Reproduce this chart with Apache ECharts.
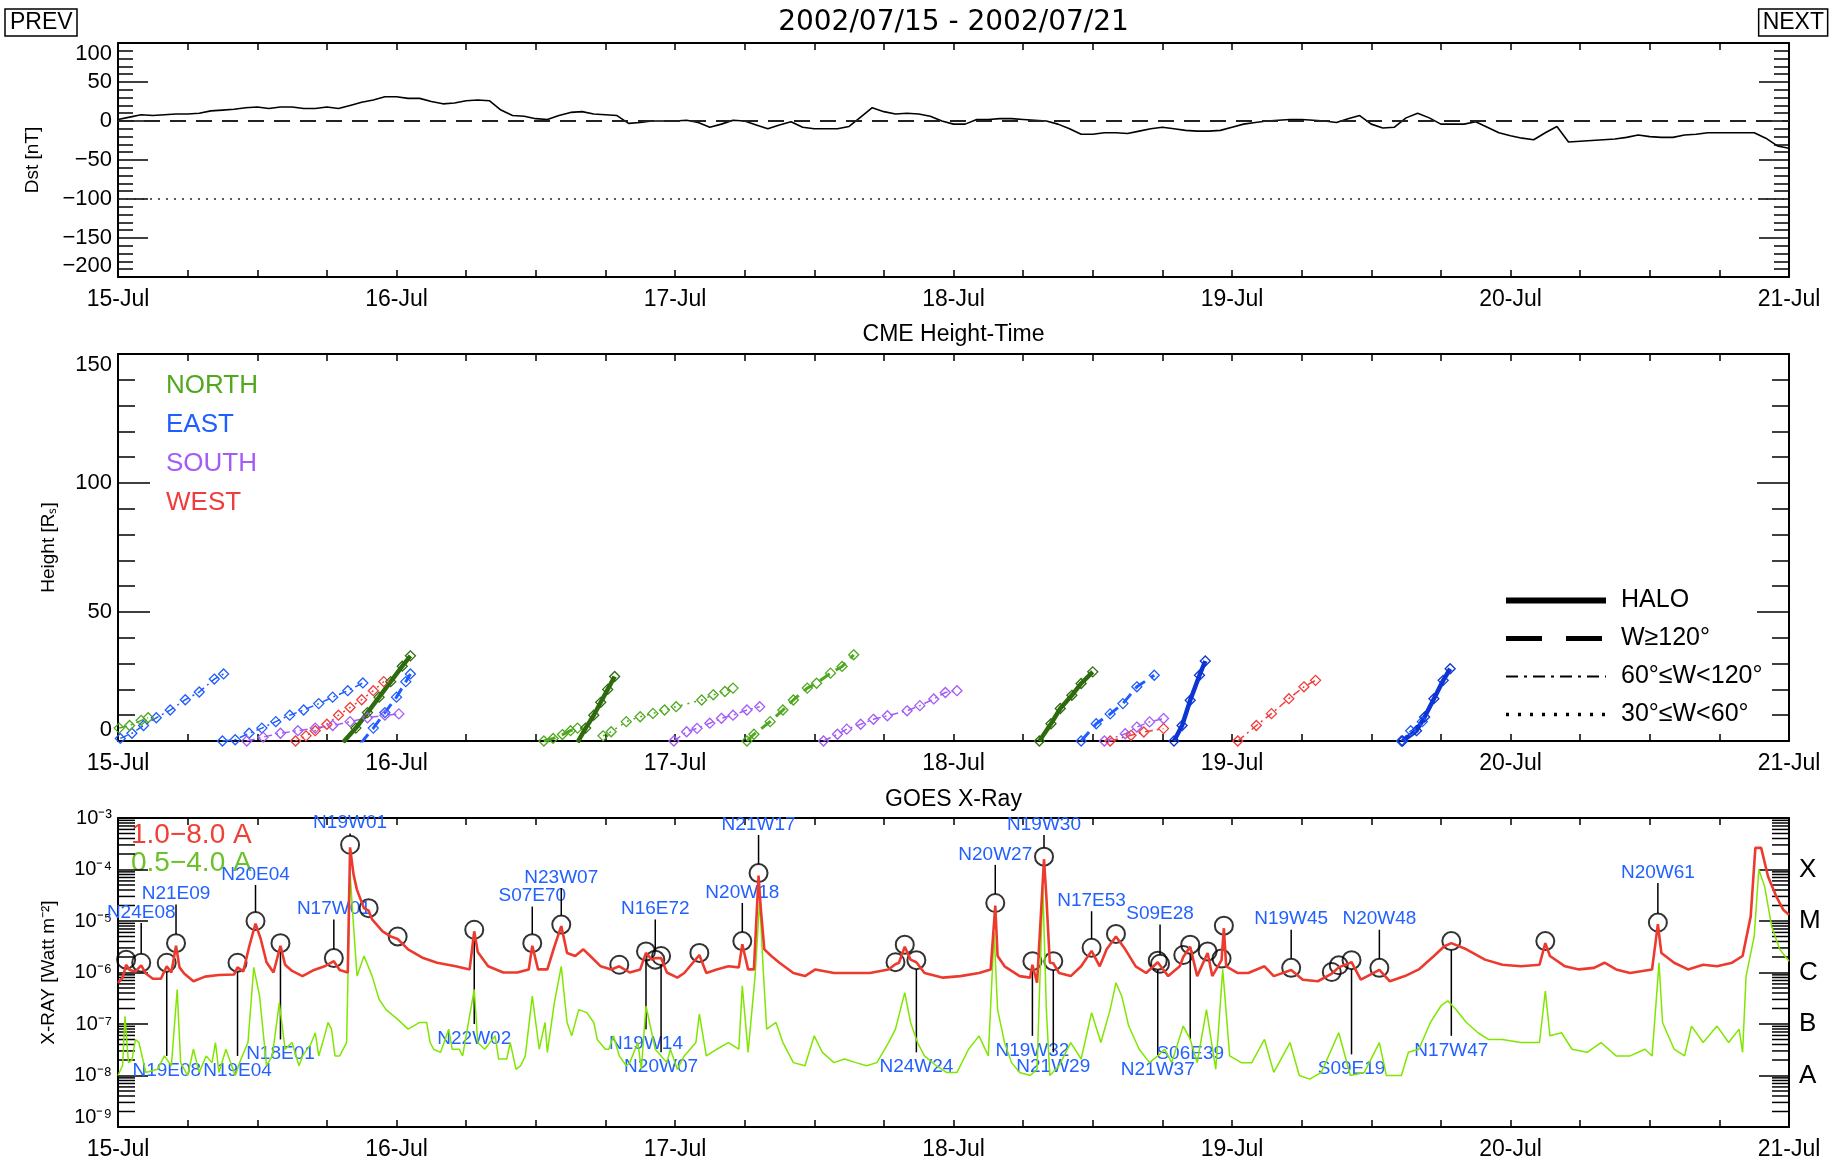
<!DOCTYPE html>
<html>
<head>
<meta charset="utf-8">
<title>2002/07/15 - 2002/07/21</title>
<script src="https://cdn.jsdelivr.net/npm/echarts@6/dist/echarts.min.js"></script>
<style>
  html, body { margin: 0; padding: 0; background: #fff; }
  #chart { width: 1830px; height: 1161px; }
</style>
</head>
<body>
<div id="chart"></div>
<script>
// time is in hours from 15-Jul 00:00 UT
const dayLabels = ['15-Jul', '16-Jul', '17-Jul', '18-Jul', '19-Jul', '20-Jul', '21-Jul'];

// hourly Dst [nT], 15-Jul 00 .. 21-Jul 00
const dst = [
  2, 5, 8, 7, 8, 9, 9, 10, 13, 14, 15, 17, 18, 16, 18, 18, 16, 16, 18, 16, 20, 24, 27, 31,
  31, 29, 29, 25, 22, 23, 26, 27, 26, 14, 7, 6, 3, 2, 7, 11, 12, 9, 8, 7, -3, -2, 0, 0,
  0, 1, -2, -8, -4, 1, 0, -5, -10, -5, -1, -8, -10, -10, -10, -7, 5, 17, 12, 9, 10, 9, 6, 0,
  -4, -4, 2, 2, 3, 3, 2, 1, 0, -4, -10, -17, -17, -15, -15, -16, -13, -10, -8, -10, -12, -13, -13, -12,
  -8, -4, -2, 0, 1, 2, 2, 1, 0, -2, 3, 7, -4, -9, -8, 4, 10, 4, -4, -4, -4, -1, -8, -15,
  -19, -22, -24, -15, -7, -27, -26, -25, -24, -23, -21, -18, -20, -21, -21, -18, -17, -15, -15, -15, -15, -15, -22, -32,
  -35
];
const dstRefLevels = [0, -100];

// CME height-time measurements: [hour, height in solar radii]
const cmeTracks = [
  [[0.2, 1], [1.2, 3], [2.2, 6], [3.3, 9], [4.5, 12], [5.8, 16], [7.0, 19], [8.3, 24], [9.1, 26]],
  [[0.1, 5], [1.0, 6], [2.0, 8], [2.6, 9]],
  [[9.0, 0], [10.1, 0.5], [11.3, 3], [12.4, 5], [13.6, 7.5], [14.8, 10], [16.0, 12], [17.3, 14.5], [18.5, 17], [19.8, 19.5], [21.1, 22.5]],
  [[11.1, 0], [12.5, 1.5], [14.0, 3], [15.5, 4], [17.0, 5], [18.5, 6], [20.0, 7.5], [21.5, 9], [23.0, 10], [24.2, 10.5]],
  [[15.3, 0], [16.2, 2], [17.0, 4], [18.0, 6.5], [19.0, 10], [20.0, 13], [21.0, 16], [22.0, 19.5], [22.9, 23]],
  [[19.4, -0.5], [20.5, 5], [21.5, 11], [22.5, 17], [23.5, 23], [24.5, 29], [25.2, 33]],
  [[20.9, -1], [22.0, 5], [23.0, 11], [24.0, 17], [24.8, 23], [25.2, 26]],
  [[36.7, 0], [37.5, 1], [38.3, 2.5], [39.0, 4], [39.6, 5]],
  [[39.6, -0.5], [40.3, 5], [41.0, 10], [41.6, 15], [42.2, 20], [42.8, 25]],
  [[41.8, 2], [42.5, 3.6], [43.8, 7.5], [45.0, 9.4], [46.1, 10.7], [47.1, 12], [48.1, 13.3], [50.3, 15.9], [51.3, 17.9], [52.3, 19.2], [53.0, 20.5]],
  [[47.9, 0], [49.0, 3.6], [49.9, 4.9], [51.0, 6.9], [52.0, 8.8], [53.0, 10], [54.2, 12], [55.3, 13.3]],
  [[54.2, 0], [54.8, 2.6], [56.2, 7.5], [57.3, 12], [58.2, 15.9], [59.4, 20.5], [60.2, 22.4], [61.4, 26.3], [62.4, 28.9], [63.4, 33.4]],
  [[60.8, 0], [62.0, 2.6], [62.8, 4.6], [64.0, 6.5], [65.1, 8.4], [66.3, 9.8], [68.0, 11.7], [69.1, 13.7], [70.3, 16.3], [71.3, 18.8], [72.3, 19.5]],
  [[79.4, 0], [80.4, 6.7], [81.2, 12.6], [82.2, 17.7], [83.0, 22.3], [84.0, 26.8]],
  [[83.0, 0], [84.3, 6.7], [85.5, 10.5], [86.6, 14.5], [87.8, 21], [89.3, 25.5]],
  [[85.0, 0], [86.8, 2.8], [87.8, 5.4], [88.9, 7.4], [90.1, 8.7]],
  [[85.5, 0], [87.3, 2.2], [88.4, 3.5], [90.1, 4.8]],
  [[91.0, 0], [91.7, 6], [92.4, 15.8], [93.2, 25.5], [93.7, 31]],
  [[96.5, 0], [98.1, 6], [99.4, 10.6], [100.9, 16.4], [102.2, 21], [103.2, 23.5]],
  [[110.6, 0], [111.4, 4], [112.4, 7.5]],
  [[110.7, 0], [111.9, 4], [112.6, 9.3], [113.4, 16.4], [114.2, 23.5], [114.8, 28]]
];
const cmeDirection = ['E', 'N', 'E', 'S', 'W', 'N', 'E', 'N', 'N', 'N', 'S', 'N', 'S', 'N', 'E', 'S', 'W', 'E', 'W', 'E', 'E'];
const cmeWidth = ['mid', 'mid', 'mid', 'mid', 'narrow', 'halo', 'wide', 'wide', 'halo', 'narrow', 'mid', 'wide', 'mid', 'halo', 'wide', 'mid', 'mid', 'halo', 'mid', 'mid', 'halo'];
const directionNames = ['NORTH', 'EAST', 'SOUTH', 'WEST'];
const widthNames = ['HALO', 'W≥120°', '60°≤W<120°', '30°≤W<60°'];

// GOES 1.0-8.0 A flux, [hour, log10 W/m2]
const xrayLong = [
  [0.0, -6.2], [0.4, -6.1], [0.7, -5.85], [1.0, -5.95], [1.5, -5.98], [2.0, -5.86], [2.4, -6.02], [3.0, -6.12], [3.7, -6.12],
  [4.2, -5.88], [4.6, -6.0], [5.0, -5.48], [5.3, -5.9], [5.7, -6.02], [6.5, -6.17], [7.5, -6.08], [8.7, -6.05], [10.0, -6.04],
  [10.3, -5.9], [10.8, -5.98], [11.3, -5.5], [11.85, -5.05], [12.3, -5.35], [12.8, -5.8], [13.4, -6.0], [14.0, -5.48], [14.4, -5.85],
  [15.0, -5.97], [15.9, -6.07], [16.9, -5.95], [17.8, -5.88], [18.6, -5.78], [19.1, -5.95], [19.8, -6.0], [20.0, -3.57], [20.3, -4.1],
  [20.6, -4.4], [21.2, -4.75], [21.6, -4.8], [21.9, -4.97], [22.8, -5.2], [23.5, -5.3], [24.1, -5.35], [25.0, -5.55], [26.3, -5.72],
  [27.5, -5.81], [29.1, -5.88], [30.3, -5.94], [30.7, -5.2], [31.0, -5.6], [31.9, -5.88], [33.2, -6.0], [34.4, -6.0], [35.4, -5.94],
  [35.7, -5.48], [36.2, -5.94], [37.0, -5.94], [37.6, -5.5], [38.2, -5.1], [38.7, -5.62], [39.4, -5.68], [40.1, -5.55], [40.7, -5.68],
  [41.6, -5.88], [42.5, -5.94], [43.2, -5.88], [44.1, -6.0], [45.0, -5.94], [45.5, -5.62], [46.0, -5.75], [46.3, -5.72], [46.8, -5.72],
  [47.3, -6.0], [48.2, -6.1], [48.8, -6.01], [50.1, -5.66], [50.7, -6.01], [51.6, -5.94], [52.6, -5.88], [53.5, -5.9], [53.8, -5.45],
  [54.3, -5.94], [54.8, -5.94], [55.2, -4.12], [55.4, -4.78], [55.7, -5.55], [56.3, -5.68], [57.0, -5.81], [58.2, -6.01], [59.2, -6.07],
  [60.1, -5.94], [61.7, -6.01], [63.2, -6.01], [64.8, -6.01], [66.4, -5.94], [67.0, -5.84], [67.3, -5.81], [67.8, -5.5], [68.3, -5.75],
  [68.8, -5.8], [69.5, -6.01], [71.1, -6.1], [72.6, -6.07], [74.2, -6.01], [75.2, -5.94], [75.6, -4.7], [75.8, -5.68], [76.4, -5.88],
  [77.7, -6.07], [78.6, -6.1], [78.8, -5.85], [79.2, -6.2], [79.8, -3.8], [80.0, -4.52], [80.3, -5.81], [80.6, -5.82], [81.1, -6.01],
  [82.1, -6.07], [83.0, -5.88], [83.9, -5.58], [84.6, -5.88], [85.2, -5.55], [86.0, -5.3], [86.8, -5.55], [87.7, -5.88], [88.6, -6.01],
  [89.6, -5.8], [90.5, -6.07], [91.5, -5.88], [91.8, -5.7], [92.4, -5.5], [93.0, -6.07], [93.9, -5.62], [94.3, -6.07], [95.1, -5.76],
  [95.3, -5.14], [95.5, -5.88], [96.5, -6.01], [97.4, -6.01], [98.8, -5.88], [99.6, -6.07], [101.1, -5.95], [102.1, -6.14], [103.4, -6.17],
  [104.6, -6.02], [105.2, -5.9], [106.3, -5.8], [107.1, -6.14], [108.7, -5.95], [109.6, -6.17], [110.9, -6.07], [112.1, -5.94], [113.4, -5.68],
  [114.3, -5.49], [114.9, -5.43], [116.2, -5.55], [117.8, -5.75], [119.3, -5.85], [120.9, -5.88], [122.5, -5.85], [123.0, -5.43], [123.4, -5.68],
  [124.7, -5.88], [125.9, -5.94], [127.2, -5.91], [128.1, -5.81], [129.1, -5.94], [130.3, -6.01], [132.2, -5.94], [132.7, -5.06], [133.0, -5.62],
  [134.1, -5.81], [135.3, -5.94], [136.6, -5.85], [137.8, -5.88], [139.1, -5.81], [140.0, -5.68], [140.7, -4.91], [141.1, -3.58], [141.6, -3.58],
  [142.2, -4.14], [142.9, -4.52], [143.5, -4.78], [144.0, -4.88]
];

// GOES 0.5-4.0 A flux, [hour, log10 W/m2]
const xrayShort = [
  [0.0, -8.0], [0.4, -7.8], [0.6, -6.85], [0.9, -7.75], [1.2, -7.7], [1.5, -7.3], [1.8, -7.36], [2.4, -7.94], [3.4, -7.88], [4.0, -7.62],
  [4.6, -7.81], [5.1, -6.33], [5.4, -7.75], [6.0, -8.0], [6.5, -7.49], [7.0, -7.94], [7.6, -7.62], [8.1, -7.75], [8.4, -7.36], [8.7, -7.94],
  [9.3, -7.49], [9.7, -7.75], [10.1, -8.0], [10.6, -7.68], [11.2, -7.36], [11.7, -5.9], [12.2, -6.46], [12.6, -7.36], [12.8, -7.81], [13.3, -7.62],
  [13.9, -6.59], [14.4, -7.49], [15.0, -7.36], [15.6, -7.81], [15.9, -7.62], [16.6, -7.4], [17.0, -7.17], [17.3, -7.62], [17.8, -7.23], [18.1, -6.97],
  [18.4, -7.1], [18.7, -7.62], [19.1, -7.62], [19.7, -7.36], [20.0, -4.07], [20.3, -5.1], [20.6, -6.07], [21.2, -5.68], [21.9, -6.07], [22.5, -6.52],
  [23.1, -6.72], [24.1, -6.91], [25.0, -7.1], [26.0, -6.97], [26.6, -6.97], [26.9, -7.36], [27.2, -7.49], [27.8, -7.55], [28.5, -7.1], [28.8, -7.49],
  [29.4, -7.49], [29.7, -7.62], [30.7, -6.33], [31.0, -7.36], [31.6, -7.49], [32.5, -7.23], [32.8, -7.68], [33.5, -7.68], [33.8, -7.36], [34.3, -7.88],
  [34.7, -7.81], [35.1, -7.62], [35.7, -6.46], [36.3, -7.49], [36.8, -6.97], [37.0, -7.55], [37.6, -6.59], [38.2, -5.88], [38.7, -6.97], [39.1, -7.23],
  [39.7, -6.72], [40.4, -6.78], [41.0, -6.97], [41.3, -7.3], [42.0, -7.49], [42.3, -7.49], [42.7, -7.23], [43.2, -7.62], [43.8, -7.81], [44.1, -7.75],
  [44.8, -7.36], [45.1, -7.88], [45.5, -6.65], [46.3, -7.49], [47.3, -7.75], [47.6, -7.49], [48.2, -7.88], [48.8, -7.62], [49.8, -7.36], [50.1, -6.81],
  [50.7, -7.62], [51.6, -7.49], [52.6, -7.36], [53.5, -7.49], [53.8, -6.26], [54.3, -7.55], [54.9, -6.07], [55.3, -4.59], [55.6, -5.94], [55.9, -7.1],
  [56.7, -6.97], [57.3, -7.36], [58.2, -7.75], [59.2, -7.81], [60.0, -7.23], [60.7, -7.55], [61.7, -7.75], [62.6, -7.68], [63.6, -7.75], [64.5, -7.81],
  [65.4, -7.75], [66.4, -7.36], [67.0, -7.1], [67.8, -6.39], [68.3, -6.97], [68.9, -7.36], [69.5, -7.62], [70.5, -7.81], [71.4, -7.94], [72.3, -7.94],
  [73.3, -7.49], [74.2, -7.23], [75.0, -7.62], [75.5, -5.23], [75.8, -6.72], [76.4, -7.36], [77.0, -7.75], [77.7, -7.94], [78.6, -8.0], [79.2, -7.88],
  [79.7, -4.33], [80.0, -6.72], [80.3, -8.0], [81.1, -7.81], [82.1, -7.36], [83.0, -7.68], [83.9, -6.78], [84.7, -7.36], [85.5, -6.72], [86.0, -6.2],
  [86.5, -6.46], [87.1, -7.04], [88.0, -7.49], [88.9, -7.75], [89.6, -7.62], [90.2, -7.49], [90.8, -7.75], [91.8, -7.04], [92.4, -7.3], [93.0, -7.75],
  [93.8, -6.72], [94.6, -7.88], [95.2, -5.94], [95.8, -7.62], [96.8, -7.75], [97.7, -7.75], [98.8, -7.3], [99.6, -7.94], [101.0, -7.36], [101.8, -8.0],
  [102.7, -8.07], [103.7, -7.94], [105.2, -7.17], [106.2, -8.0], [107.4, -7.94], [108.7, -7.36], [109.3, -8.0], [110.6, -8.0], [111.2, -7.55], [112.1, -7.49],
  [113.1, -6.97], [114.0, -6.65], [114.6, -6.55], [115.3, -6.72], [116.2, -6.97], [117.2, -7.17], [118.1, -7.3], [119.3, -7.3], [120.9, -7.36], [122.5, -7.36],
  [123.0, -6.36], [123.4, -7.23], [124.4, -7.17], [125.3, -7.49], [126.6, -7.55], [127.8, -7.36], [129.1, -7.62], [130.3, -7.62], [131.6, -7.49], [132.2, -7.62],
  [132.8, -5.81], [133.1, -6.97], [134.1, -7.49], [135.0, -7.62], [135.6, -7.04], [136.6, -7.36], [137.8, -7.04], [138.8, -7.36], [139.7, -7.1], [140.0, -7.55],
  [140.3, -6.07], [141.0, -5.3], [141.4, -4.0], [141.9, -4.33], [142.5, -5.1], [143.2, -5.55], [144.0, -5.78]
];
const flareClassLevels = [-5, -7];
const classLetters = { '-8': 'A', '-7': 'B', '-6': 'C', '-5': 'M', '-4': 'X' };
const minorTickFactors = [2, 3, 4, 5, 6, 7, 8, 9];

// flare peaks (circles): hour and log10 flux
const flareHour = [0.7, 2.0, 4.2, 5.0, 10.3, 11.85, 14.0, 18.6, 20.0, 21.6, 24.1, 30.7, 35.7, 38.2, 43.2, 45.5, 46.3, 46.8, 50.1, 53.8, 55.2,
  67.0, 67.8, 68.8, 75.6, 78.8, 79.8, 80.6, 83.9, 86.0, 89.6, 89.8, 91.8, 92.4, 93.9, 95.1, 95.3, 101.1, 104.6, 105.2, 106.3, 108.7, 114.9, 123.0, 132.7];
const flareLevel = [-5.75, -5.81, -5.81, -5.43, -5.81, -5.0, -5.43, -5.72, -3.52, -4.75, -5.3, -5.17, -5.43, -5.07, -5.85, -5.59, -5.75, -5.68, -5.62, -5.39, -4.07,
  -5.8, -5.46, -5.76, -4.65, -5.78, -3.75, -5.78, -5.52, -5.25, -5.77, -5.83, -5.66, -5.46, -5.59, -5.73, -5.09, -5.91, -5.99, -5.86, -5.76, -5.91, -5.39, -5.39, -5.03];

// source region labels: which flare, where the leader line ends (log10 flux)
const labelText = ['N24E08', 'N19E08', 'N21E09', 'N19E04', 'N20E04', 'N18E01', 'N17W01', 'N19W01', 'N22W02', 'S07E70', 'N23W07', 'N19W14', 'N16E72', 'N20W07',
  'N20W18', 'N21W17', 'N24W24', 'N20W27', 'N19W32', 'N19W30', 'N21W29', 'N17E53', 'N21W37', 'S09E28', 'S06E39', 'N19W45', 'S09E19', 'N20W48', 'N17W47', 'N20W61'];
const labelFlare = [1, 2, 3, 4, 5, 6, 7, 8, 11, 12, 13, 15, 16, 17, 19, 20, 23, 24, 25, 26, 27, 28, 30, 31, 33, 37, 40, 41, 42, 44];
const labelEnd = [-5.04, -7.62, -4.68, -7.62, -4.3, -7.3, -4.97, -3.3, -7.0, -4.72, -4.36, -7.1, -4.97, -7.55,
  -4.65, -3.33, -7.55, -3.91, -7.23, -3.33, -7.55, -4.81, -7.6, -5.07, -7.3, -5.17, -7.59, -5.17, -7.23, -4.26];

const FONT = 'Liberation Sans';
const BLUE_TEXT = '#2261ff';
const dirColor = { N: '#4fa81f', E: '#1f5dff', S: '#a35cf5', W: '#f23c3c' };
const haloColor = { N: '#2d6b0c', E: '#0c35d4', S: '#7b2fd6', W: '#c81e1e' };
const trackStyle = {
  halo: { width: 4.5, type: 'solid' },
  wide: { width: 3, type: [12, 7] },
  mid: { width: 1.5, type: [8, 4, 2, 4] },
  narrow: { width: 1.5, type: [2, 5] }
};
const legendStyle = [
  { width: 6, type: 'solid' },
  { width: 5, type: [36, 24] },
  { width: 2, type: [12, 6, 3, 6] },
  { width: 3.5, type: [3, 9] }
];
const supMap = { '-': '⁻', '0': '⁰', '1': '¹', '2': '²', '3': '³', '4': '⁴', '5': '⁵', '6': '⁶', '7': '⁷', '8': '⁸', '9': '⁹' };
const flux = lv => Math.pow(10, lv);
const minus = s => String(s).replace('-', '−');

const grids = [
  { left: 118, top: 43, width: 1671, height: 234 },
  { left: 118, top: 354, width: 1671, height: 387 },
  { left: 118, top: 818, width: 1671, height: 310 }
];
const plotCenter = 118 + 1671 / 2;

function timeAxis(gridIndex, position) {
  return {
    type: 'value', gridIndex, position, min: 0, max: 144, interval: 6,
    axisLine: { onZero: false, lineStyle: { color: '#000', width: 2 } },
    axisTick: { inside: true, length: 7, lineStyle: { color: '#000', width: 1.5 } },
    axisLabel: {
      show: position === 'bottom', margin: 11, fontSize: 23, color: '#000', fontFamily: FONT,
      formatter: v => (v % 24 === 0 ? dayLabels[v / 24] : '')
    },
    splitLine: { show: false }
  };
}

function linearAxis(gridIndex, position, min, max, majorLen, minorLen, extra) {
  return Object.assign({
    type: 'value', gridIndex, position, min, max, interval: 50,
    axisLine: { onZero: false, lineStyle: { color: '#000', width: 2 } },
    axisTick: { inside: true, length: majorLen, lineStyle: { color: '#000', width: 1.5 } },
    minorTick: { show: true, splitNumber: 5, length: minorLen, lineStyle: { color: '#000', width: 1.5 } },
    axisLabel: {
      show: position === 'left', margin: 6, fontSize: 22, color: '#000', fontFamily: FONT, formatter: v => minus(v),
      verticalAlignMinLabel: 'bottom', verticalAlignMaxLabel: 'top'
    },
    splitLine: { show: false }, minorSplitLine: { show: false }
  }, extra || {});
}

function logAxis(position, extra) {
  return Object.assign({
    type: 'log', logBase: 10, gridIndex: 2, position, min: 1e-9, max: 1e-3, splitNumber: 6,
    axisLine: { onZero: false, lineStyle: { color: '#000', width: 2 } },
    axisTick: { inside: true, length: 30, lineStyle: { color: '#000', width: 1.5 } },
    splitLine: { show: false }
  }, extra);
}

const axisName = (name, gap) => ({
  name, nameLocation: 'middle', nameGap: gap, nameRotate: 90,
  nameTextStyle: { fontSize: 19, fontFamily: FONT, color: '#000' }
});

const series = [];

// Dst
series.push({
  type: 'line', xAxisIndex: 0, yAxisIndex: 0, symbol: 'none',
  data: dst.map((v, i) => [i, v]),
  lineStyle: { color: '#000', width: 1.6 },
  markLine: {
    silent: true, symbol: 'none', label: { show: false },
    data: dstRefLevels.map((lv, i) => ({
      yAxis: lv,
      lineStyle: i === 0 ? { color: '#222', width: 2, type: [16, 10] } : { color: '#222', width: 1.5, type: [2, 6] }
    }))
  }
});

// CME tracks
cmeTracks.forEach((pts, i) => {
  const dir = cmeDirection[i];
  const kind = cmeWidth[i];
  const color = kind === 'halo' ? haloColor[dir] : dirColor[dir];
  series.push({
    type: 'line', xAxisIndex: 2, yAxisIndex: 2, data: pts,
    symbol: 'diamond', symbolSize: 10,
    itemStyle: { color: 'rgba(0,0,0,0)', borderColor: color, borderWidth: 1.3 },
    lineStyle: Object.assign({ color }, trackStyle[kind])
  });
});

// line-style legend entries
widthNames.forEach((name, i) => {
  series.push({
    name, type: 'line', xAxisIndex: 2, yAxisIndex: 2, data: [], symbol: 'none',
    itemStyle: { color: '#000' },
    lineStyle: Object.assign({ color: '#000' }, legendStyle[i])
  });
});

// log minor ticks on both sides of the X-ray panel
const minorTicks = [];
for (let d = -9; d < -3; d++) minorTickFactors.forEach(f => minorTicks.push([0, f * Math.pow(10, d)]));
series.push({
  type: 'custom', xAxisIndex: 4, yAxisIndex: 4, silent: true, data: minorTicks,
  renderItem(params, api) {
    const y = api.coord([0, api.value(1)])[1];
    const cs = params.coordSys;
    const st = { stroke: '#000', lineWidth: 1.5 };
    return {
      type: 'group', children: [
        { type: 'line', shape: { x1: cs.x, y1: y, x2: cs.x + 17, y2: y }, style: st },
        { type: 'line', shape: { x1: cs.x + cs.width - 17, y1: y, x2: cs.x + cs.width, y2: y }, style: st }
      ]
    };
  }
});

// X-ray fluxes
series.push({
  type: 'line', xAxisIndex: 4, yAxisIndex: 4, symbol: 'none',
  data: xrayShort.map(p => [p[0], flux(p[1])]),
  lineStyle: { color: '#80e600', width: 1.5 }
});
series.push({
  type: 'line', xAxisIndex: 4, yAxisIndex: 4, symbol: 'none',
  data: xrayLong.map(p => [p[0], flux(p[1])]),
  lineStyle: { color: '#ec3b2e', width: 2.6 },
  markLine: {
    silent: true, symbol: 'none', label: { show: false },
    lineStyle: { color: '#222', width: 1.5, type: [2, 6] },
    data: flareClassLevels.map(lv => ({ yAxis: flux(lv) }))
  }
});

// leader lines + source region labels
series.push({
  type: 'custom', xAxisIndex: 4, yAxisIndex: 4, silent: true, clip: false,
  data: labelFlare.map((fi, i) => [flareHour[fi], flux(flareLevel[fi]), flux(labelEnd[i])]),
  renderItem(params, api) {
    const p0 = api.coord([api.value(0), api.value(1)]);
    const p1 = api.coord([api.value(0), api.value(2)]);
    const up = p1[1] < p0[1];
    return {
      type: 'group', children: [
        { type: 'line', shape: { x1: p0[0], y1: p0[1] + (up ? -9 : 9), x2: p1[0], y2: p1[1] }, style: { stroke: '#000', lineWidth: 1.5 } },
        {
          type: 'text', x: p1[0], y: p1[1] + (up ? -1 : 5),
          style: { text: labelText[params.dataIndex], fill: BLUE_TEXT, font: '19px ' + FONT, align: 'center', verticalAlign: up ? 'bottom' : 'top' }
        }
      ]
    };
  }
});

// flare circles
series.push({
  type: 'scatter', xAxisIndex: 4, yAxisIndex: 4, symbol: 'circle', symbolSize: 18,
  data: flareHour.map((h, i) => [h, flux(flareLevel[i])]),
  itemStyle: { color: 'rgba(0,0,0,0)', borderColor: '#000', borderWidth: 2 }
});

const textEl = (text, left, top, color, size) => ({
  type: 'text', left, top, silent: true,
  style: { text, fill: color, font: size + 'px ' + FONT }
});
const centeredText = (text, y, size, family) => ({
  type: 'text', x: plotCenter, y, silent: true,
  style: { text, fill: '#000', font: size + 'px ' + family, align: 'center', verticalAlign: 'middle' }
});

const option = {
  animation: false,
  backgroundColor: '#fff',
  title: [
    { text: 'PREV', left: 5, top: 9, padding: [2, 5], borderColor: '#000', borderWidth: 1.5, textStyle: { fontSize: 23, fontWeight: 'normal', fontFamily: FONT, color: '#000' } },
    { text: 'NEXT', right: 2, top: 9, padding: [2, 4], borderColor: '#000', borderWidth: 1.5, textStyle: { fontSize: 23, fontWeight: 'normal', fontFamily: FONT, color: '#000' } }
  ],
  legend: {
    data: widthNames.map((name, i) => ({ name, lineStyle: legendStyle[i] })),
    orient: 'vertical', left: 1498, top: 583,
    itemWidth: 100, itemHeight: 20, itemGap: 13, selectedMode: false,
    itemStyle: { opacity: 0 },
    textStyle: { fontSize: 25, fontFamily: FONT, color: '#000', padding: [0, 0, 0, 10] }
  },
  graphic: [
    centeredText('2002/07/15 - 2002/07/21', 23, 28, 'DejaVu Sans'),
    centeredText('CME Height-Time', 335, 23, FONT),
    centeredText('GOES X-Ray', 800, 23, FONT),
    textEl(directionNames[0], 166, 373, dirColor.N, 26),
    textEl(directionNames[1], 166, 412, dirColor.E, 26),
    textEl(directionNames[2], 166, 451, dirColor.S, 26),
    textEl(directionNames[3], 166, 490, dirColor.W, 26),
    textEl('1.0−8.0 A', 131, 821, '#ee4035', 28),
    textEl('0.5−4.0 A', 131, 849, '#6cc02a', 28)
  ],
  grid: grids,
  xAxis: [
    timeAxis(0, 'bottom'), timeAxis(0, 'top'),
    timeAxis(1, 'bottom'), timeAxis(1, 'top'),
    timeAxis(2, 'bottom'), timeAxis(2, 'top')
  ],
  yAxis: [
    linearAxis(0, 'left', -200, 100, 30, 15, axisName('Dst [nT]', 76)),
    linearAxis(0, 'right', -200, 100, 30, 15),
    linearAxis(1, 'left', 0, 150, 32, 17, axisName('Height [Rₛ]', 60)),
    linearAxis(1, 'right', 0, 150, 32, 17),
    logAxis('left', Object.assign({
      axisLabel: {
        margin: 6, fontSize: 20, color: '#000', fontFamily: FONT,
        verticalAlignMinLabel: 'bottom', verticalAlignMaxLabel: 'top',
        formatter: v => '10' + String(Math.round(Math.log10(v))).split('').map(c => supMap[c]).join('')
      }
    }, axisName('X-RAY [Watt m⁻²]', 60))),
    logAxis('right', {
      axisLabel: {
        margin: 10, fontSize: 26, color: '#000', fontFamily: FONT,
        formatter: v => classLetters[String(Math.round(Math.log10(v)))] || ''
      }
    })
  ],
  series
};

const chart = echarts.init(document.getElementById('chart'));
chart.setOption(option);
</script>
</body>
</html>
